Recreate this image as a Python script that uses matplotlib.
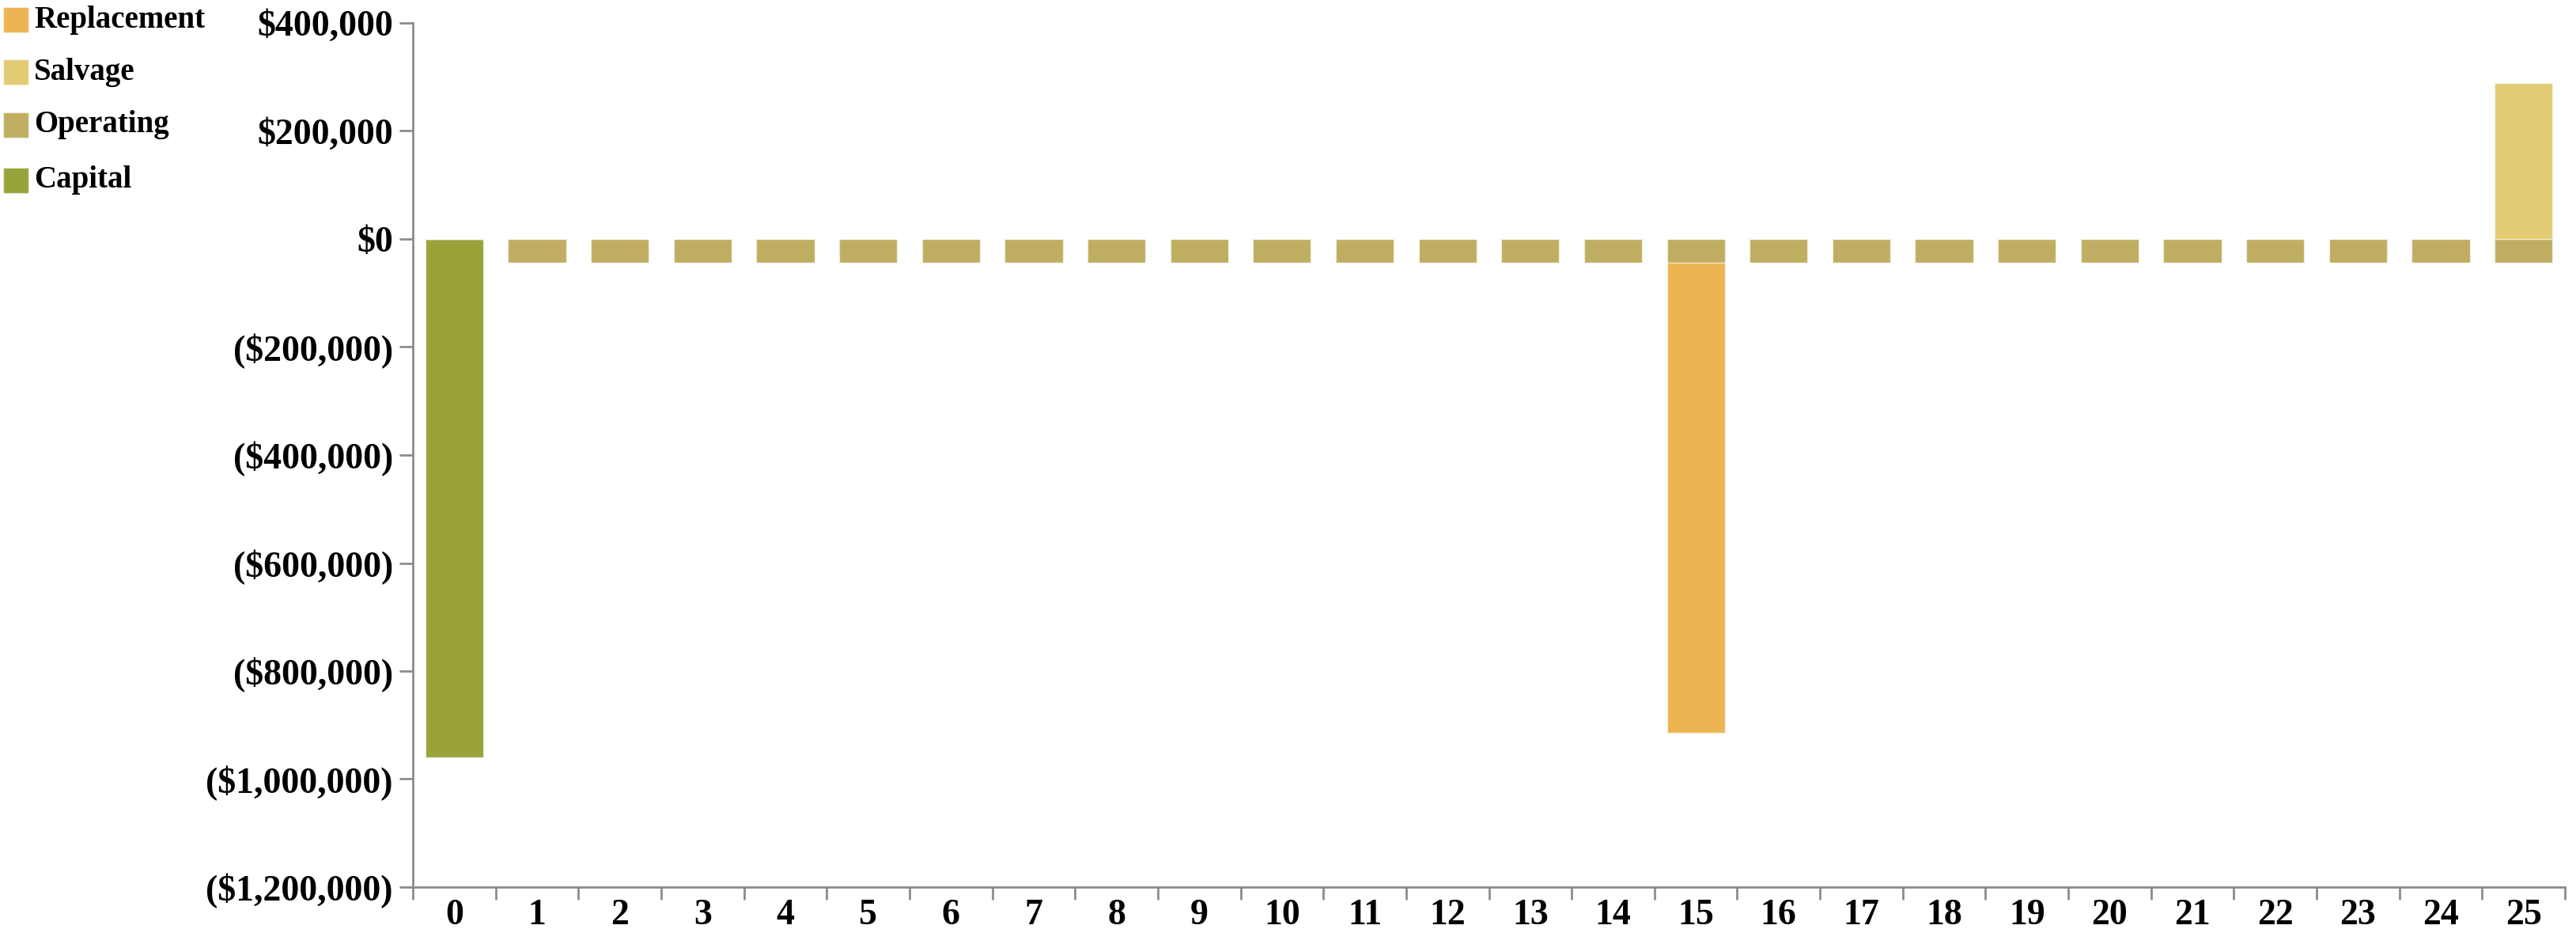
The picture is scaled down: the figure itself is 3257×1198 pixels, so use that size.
import numpy as np
import matplotlib
matplotlib.use("Agg")
import matplotlib.pyplot as plt
from matplotlib.patches import Rectangle
from matplotlib.ticker import FuncFormatter

plt.rcParams['font.family'] = ['Liberation Serif', 'DejaVu Serif']
plt.rcParams['font.weight'] = 'bold'

# ------------------------------------------------------------
# Data (cash flows per year)
# ------------------------------------------------------------
years = list(range(26))
capital = [-960000] + [0] * 25
operating = [0] + [-44000] * 25
replacement = [0] * 15 + [-870000] + [0] * 10
salvage = [0] * 25 + [288000]

series_names = ["Replacement", "Salvage", "Operating", "Capital"]
series_colors = {
    "Capital": "#9aa23a",
    "Operating": "#bfad62",
    "Replacement": "#ecb453",
    "Salvage": "#e2cb72",
}
y_ticks = [400000, 200000, 0, -200000, -400000, -600000, -800000, -1000000, -1200000]

W, H = 3257, 1198
fig = plt.figure(figsize=(W / 100, H / 100), dpi=100)
ax = fig.add_axes([522 / W, 1 - 1121 / H, (3243 - 522) / W, (1121 - 29) / H])

x = np.array(years)
bw = 0.7
edge = dict(edgecolor=(1, 1, 1, 0.5), linewidth=1)

ax.bar(x, capital, bw, color=series_colors["Capital"], **edge)
ax.bar(x, operating, bw, color=series_colors["Operating"], **edge)
# negative flows stack below operating, positive ones start at zero
ax.bar(x, replacement, bw, bottom=operating, color=series_colors["Replacement"], **edge)
ax.bar(x, salvage, bw, color=series_colors["Salvage"], **edge)

ax.set_xlim(-0.5, 25.5)
ax.set_ylim(-1200000, 400000)

gray = "#8c8c8c"
for side in ["top", "right"]:
    ax.spines[side].set_visible(False)
for side in ["left", "bottom"]:
    ax.spines[side].set_color(gray)
    ax.spines[side].set_linewidth(2)

def money(v, pos=None):
    if v < 0:
        return "(${:,.0f})".format(-v)
    return "${:,.0f}".format(v)

ax.set_yticks(y_ticks)
ax.yaxis.set_major_formatter(FuncFormatter(money))
ax.tick_params(axis='y', length=12, width=2, color=gray, pad=6, labelsize=33)

# band boundaries get the tick marks, band centres get the labels
ax.set_xticks(np.arange(-0.5, 26, 1))
ax.set_xticklabels([])
ax.set_xticks(x, minor=True)
ax.set_xticklabels([str(y) for y in years], minor=True)
ax.tick_params(axis='x', which='major', length=11.5, width=2, color=gray)
ax.tick_params(axis='x', which='minor', length=0, pad=11, labelsize=33)

# legend drawn by hand in the top left corner
leg_y = [25, 91, 158, 228]
for name, yc in zip(series_names, leg_y):
    fig.patches.append(Rectangle((4 / W, 1 - (yc + 16) / H), 32 / W, 32 / H,
                                 transform=fig.transFigure,
                                 facecolor=series_colors[name],
                                 edgecolor=(1, 1, 1, 0.5), linewidth=1))
    fig.text(43 / W, 1 - yc / H, name, ha='left', va='center',
             fontsize=28, fontweight='bold')

fig.savefig("out.png", dpi=100)
